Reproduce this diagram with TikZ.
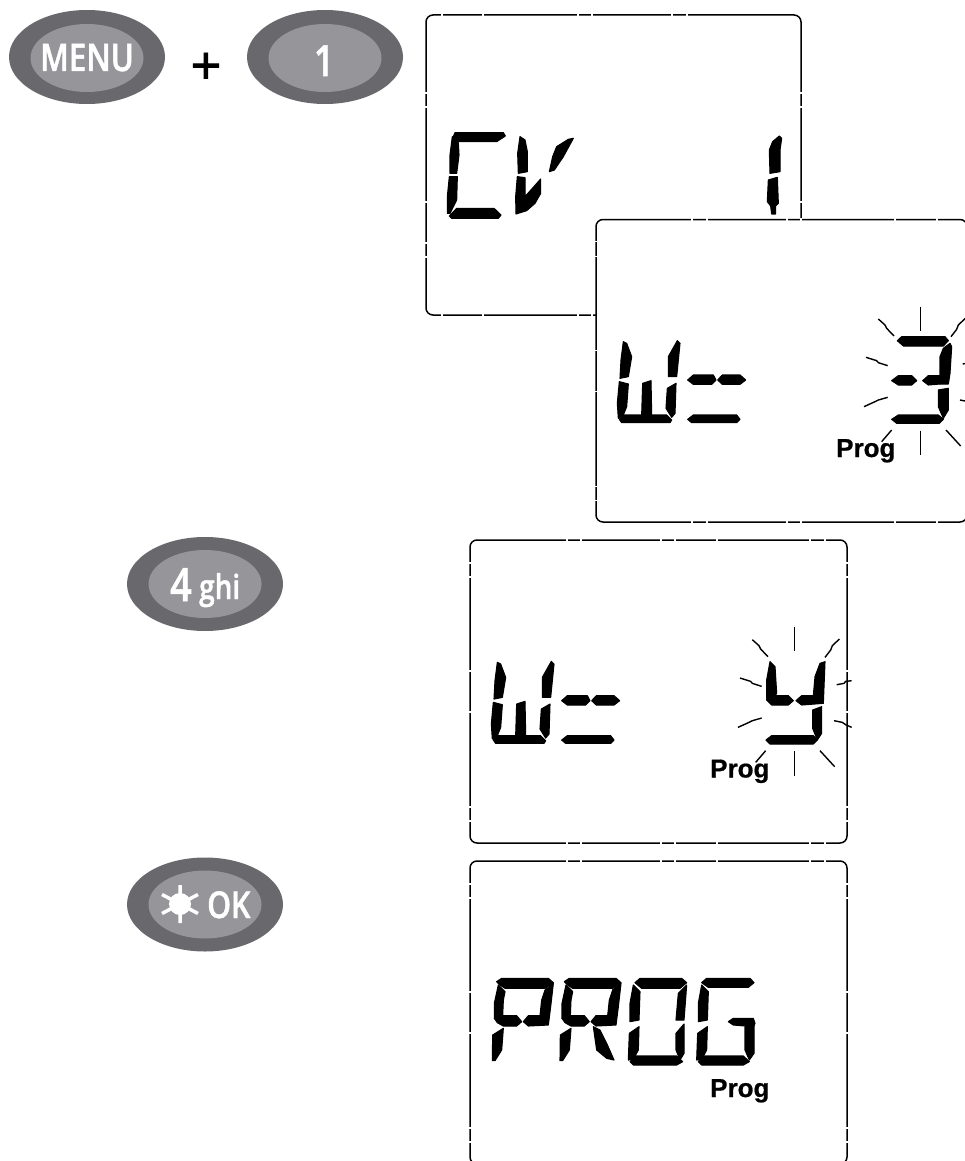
\documentclass[tikz,border=0pt]{standalone}
\usepackage{fontspec}
\usetikzlibrary{shapes.geometric}
\setmainfont{Liberation Sans}
\newfontfamily\btnfont[FakeStretch=0.82,FakeBold=1.2]{Open Sans Semibold}
\newfontfamily\plusfont[FakeBold=1.5]{Liberation Sans}
\newfontfamily\progfont[FakeBold=0.6]{Liberation Sans Bold}
\definecolor{btnouter}{HTML}{69686D}
\definecolor{btninner}{HTML}{96959A}
\newcommand\fsz[1]{\fontsize{#1}{#1}\selectfont}
\tikzset{
  btnout/.style={ellipse,fill=btnouter,minimum width=156pt,minimum height=94pt,inner sep=0pt},
  btnin/.style={ellipse,fill=btninner,minimum width=113pt,minimum height=68pt,inner sep=0pt},
  btntxt/.style={text=white,inner sep=0pt,anchor=base},
  progtxt/.style={inner sep=0pt,anchor=base west,font=\progfont\fsz{26}},
  lcdline/.style={line width=1.5pt,draw=black,fill=white,rounded corners=7pt},
  zoomed/.style={x=0.33333pt,y=-0.33333pt,every path/.append style={draw=black,line width=1.1pt,line join=round}},
  ray/.style={line width=1.4pt,draw=black}
}
% box: x1 y1 x2 y2, horizontal gaps, vertical gaps (relative to the corner)
\newcommand\lcdbox[6]{%
  \draw[lcdline] (#1,#2) rectangle (#3,#4);
  \foreach \g in {#5}{
    \fill[white] ({#1+\g-0.8},{#2-1.2}) rectangle ({#1+\g+0.8},{#2+1.2});
    \fill[white] ({#1+\g-0.8},{#4-1.2}) rectangle ({#1+\g+0.8},{#4+1.2});
  }
  \foreach \g in {#6}{
    \fill[white] ({#1-1.2},{#2+\g-0.8}) rectangle ({#1+1.2},{#2+\g+0.8});
    \fill[white] ({#3-1.2},{#2+\g-0.8}) rectangle ({#3+1.2},{#2+\g+0.8});
  }
}
\newcommand\wequal{%
  \fill (100,395)--(110,400)--(125,440)--(115,500)--(90,505)--(93,450)--cycle;
  \fill (88,515)--(115,522)--(110,590)--(100,615)--(85,625)--(82,580)--cycle;
  \fill (262,392)--(270,400)--(260,500)--(235,500)--(235,440)--cycle;
  \fill (232,535)--(258,520)--(255,610)--(245,622)--(228,595)--cycle;
  \fill (158,520)--(183,512)--(185,615)--(155,615)--cycle;
  \fill (88,628)--(100,615)--(230,615)--(245,630)--(240,638)--(95,638)--cycle;
  \fill (293,510)--(310,495)--(370,495)--(378,510)--(365,523)--(310,523)--cycle;
  \fill (383,510)--(397,495)--(450,495)--(467,510)--(450,523)--(397,523)--cycle;
  \fill (293,628)--(310,615)--(440,615)--(450,628)--(440,638)--(305,638)--cycle;
}
\newcommand\rays{%
  \draw[ray] (992,290)--(992,362);
  \draw[ray] (865,327)--(885,345)--(890,355)--(912,378);
  \draw[ray] (1126,325)--(1105,345)--(1100,358)--(1083,380);
  \draw[ray] (828,442)--(860,452)--(865,458)--(893,467);
  \draw[ray] (1118,462)--(1140,458)--(1145,452)--(1163,450);
  \draw[ray] (822,590)--(855,575)--(865,570)--(893,562);
  \draw[ray] (1110,570)--(1135,575)--(1145,582)--(1163,590);
  \draw[ray] (905,660)--(875,695);
  \draw[ray] (992,662)--(992,735);
  \draw[ray] (1068,660)--(1112,708);
}
\newcommand\pshape{%
  \fill (110,395)--(125,385)--(265,385)--(280,398)--(255,415)--(135,415)--(120,405)--cycle;
  \fill (115,405)--(135,425)--(130,450)--(128,497)--(103,505)--(103,460)--cycle;
  \fill (103,505)--(128,497)--(170,497)--(185,515)--(170,528)--(130,528)--(112,518)--cycle;
  \fill (98,555)--(130,535)--(125,600)--(105,632)--(97,632)--cycle;
  \fill (280,400)--(272,470)--(265,525)--(205,528)--(190,515)--(205,497)--(240,497)--(245,450)--(255,420)--cycle;
}
\begin{document}
\begin{tikzpicture}[x=1pt,y=-1pt]
\useasboundingbox (0,0) rectangle (965,1161);
\fill[white] (0,0) rectangle (965,1161);

% buttons
\node[btnout] (menuO) at (87,57) {};
\node[btnin] (menuI) at (87,58) {};
\node[btntxt,font=\btnfont\fsz{38}] (menuT) at (87,71) {MENU};
\node[inner sep=0pt,anchor=base,font=\plusfont\fsz{52}] (plus) at (206,83) {+};
\node[btnout] (oneO) at (325,57) {};
\node[btnin] (oneI) at (325,58) {};
\node[btntxt,font=\btnfont\fsz{43}] (oneT) at (324,76) {1};

\node[btnout] (fourO) at (205,584) {};
\node[btnin] (fourI) at (205,584) {};
\node[btntxt,anchor=base west,font=\btnfont\fsz{46}] (fourT) at (170,601) {4};
\node[btntxt,anchor=base west,font=\btnfont\fsz{34}] (ghiT) at (199,599) {ghi};

\node[btnout] (okO) at (205,904.5) {};
\node[btnin] (okI) at (205,904.5) {};
\node[btntxt,anchor=base west,font=\btnfont\fsz{37}] (okT) at (207,918) {OK};
\fill[white] (180,904) circle (11pt);
\draw[white,line width=3.5pt] (180,885)--(180,923) (162,894.5)--(198,913.5) (162,913.5)--(198,894.5);

% display 1
\lcdbox{426}{15}{801}{315}{16,57,152,166,246,261}{78,92,187,228,242}
\begin{scope}[shift={(420,0)},zoomed]
  \fill (105,398)--(250,398)--(256,408)--(230,425)--(115,425)--(100,410)--cycle;
  \fill (97,410)--(115,428)--(117,465)--(110,520)--(90,520)--(90,465)--cycle;
  \fill (88,530)--(112,530)--(110,600)--(90,640)--(82,640)--(82,590)--cycle;
  \fill (88,648)--(110,625)--(222,625)--(243,645)--(235,655)--(95,655)--cycle;
  \fill (300,410)--(315,420)--(322,455)--(322,515)--(295,520)--(293,460)--cycle;
  \fill (292,530)--(315,533)--(315,590)--(362,537)--(362,580)--(345,610)--(320,632)--(288,642)--(287,590)--cycle;
  \fill (460,415)--(445,418)--(410,440)--(398,470)--(388,515)--(403,510)--(430,470)--cycle;
  \fill (1078,408)--(1085,415)--(1080,450)--(1080,515)--(1050,520)--(1048,450)--(1058,425)--cycle;
  \fill (1045,540)--(1072,532)--(1075,610)--(1067,618)--(1067,642)--(1055,642)--(1052,618)--(1042,605)--cycle;
\end{scope}

% display 2
\lcdbox{596}{219.5}{967}{522}{96,111,191,205,299,341}{22,37,131,172,267,281}
\begin{scope}[shift={(590,210)},zoomed]
  \wequal
  \rays
  \fill (922,392)--(935,380)--(1065,380)--(1075,392)--(1060,408)--(940,408)--cycle;
  \fill (1080,400)--(1085,410)--(1080,490)--(1075,522)--(1050,522)--(1050,440)--(1060,415)--cycle;
  \fill (905,512)--(925,497)--(965,497)--(980,512)--(965,525)--(925,525)--cycle;
  \fill (998,512)--(1015,497)--(1050,497)--(1050,522)--(1015,525)--cycle;
  \fill (1045,540)--(1075,535)--(1075,600)--(1060,625)--(1045,590)--cycle;
  \fill (905,628)--(925,615)--(1045,615)--(1060,628)--(1048,640)--(920,640)--cycle;
\end{scope}
\node[progtxt] (prog2) at (836,457) {Prog};

% display 3
\lcdbox{470}{540}{847}{843}{97,111,191,205,247,340,355}{23,37,131,172,267,281}
\begin{scope}[shift={(464,530.7)},zoomed]
  \wequal
  \rays
\end{scope}
\begin{scope}[shift={(460,530)},zoomed]
  \fill (930,395)--(945,410)--(950,490)--(945,497)--(985,497)--(1000,512)--(985,525)--(935,525)--(920,510)--(920,450)--cycle;
  \fill (1008,512)--(1025,497)--(1060,497)--(1065,440)--(1080,400)--(1095,395)--(1090,520)--(1025,525)--cycle;
  \fill (1058,540)--(1085,530)--(1085,610)--(1072,630)--(1058,595)--cycle;
  \fill (918,630)--(935,617)--(1060,617)--(1072,630)--(1060,642)--(930,642)--cycle;
\end{scope}
\node[progtxt] (prog3) at (710,777.5) {Prog};

% display 4
\lcdbox{470}{861}{847}{1164}{97,111,191,205,247,340,355}{23,37,131,172,267,281}
\begin{scope}[shift={(460,850)},zoomed]
  \pshape
  \begin{scope}[shift={(203,0)}]\pshape\end{scope}
  \fill (400,530)--(420,540)--(440,580)--(462,630)--(440,625)--(410,600)--cycle;
  % O
  \fill (525,398)--(540,385)--(665,385)--(680,398)--(660,415)--(545,415)--cycle;
  \fill (520,405)--(540,425)--(537,510)--(510,515)--(510,460)--cycle;
  \fill (508,550)--(537,530)--(535,600)--(520,628)--(505,630)--cycle;
  \fill (680,405)--(672,510)--(648,510)--(655,430)--cycle;
  \fill (648,550)--(672,522)--(672,610)--(660,630)--(648,600)--cycle;
  \fill (510,635)--(525,618)--(650,618)--(668,635)--(650,645)--(520,645)--cycle;
  % G
  \fill (725,398)--(740,385)--(870,385)--(882,398)--(865,412)--(745,412)--cycle;
  \fill (725,405)--(745,425)--(742,510)--(715,515)--(715,460)--cycle;
  \fill (713,550)--(742,530)--(740,600)--(725,628)--(710,630)--cycle;
  \fill (715,635)--(730,618)--(850,618)--(868,635)--(850,645)--(725,645)--cycle;
  \fill (805,515)--(820,505)--(880,505)--(885,520)--(880,530)--(820,525)--cycle;
  \fill (855,530)--(882,525)--(882,610)--(868,630)--(855,600)--cycle;
\end{scope}
\node[progtxt] (prog4) at (710,1097) {Prog};
\end{tikzpicture}
\end{document}
